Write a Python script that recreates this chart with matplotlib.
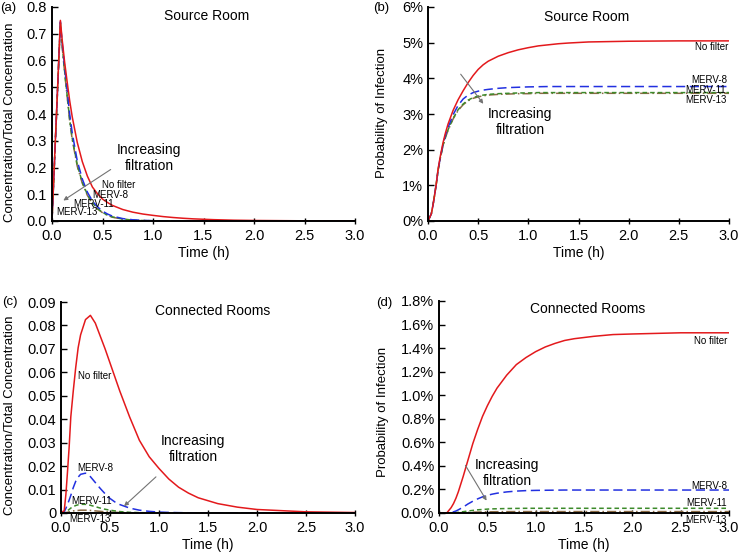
import numpy as np
import matplotlib
matplotlib.use('Agg')
import matplotlib.pyplot as plt
from matplotlib.patches import FancyArrowPatch
from matplotlib.ticker import FuncFormatter

plt.rcParams['font.family'] = ['Liberation Sans', 'DejaVu Sans']

# time (h)
t = [0, 0.033, 0.05, 0.067, 0.083, 0.1, 0.125, 0.15, 0.175, 0.2, 0.25, 0.3, 0.35, 0.4, 0.45, 0.5,
     0.55, 0.6, 0.7, 0.8, 0.9, 1.0, 1.1, 1.2, 1.3, 1.4, 1.6, 1.8, 2.0, 2.5, 3.0]

# (a) source room, concentration / total concentration
a_none = [0, 0.30, 0.45, 0.605, 0.75, 0.68, 0.594, 0.52, 0.45, 0.39, 0.294, 0.222, 0.168, 0.127, 0.102, 0.082,
          0.069, 0.058, 0.043, 0.033, 0.026, 0.021, 0.0165, 0.013, 0.0102, 0.008, 0.005, 0.003, 0.002, 0.0007, 0.0002]
a_m8 = [0, 0.297, 0.447, 0.6, 0.745, 0.67, 0.575, 0.49, 0.40, 0.33, 0.225, 0.157, 0.108, 0.075, 0.053, 0.037,
        0.026, 0.018, 0.009, 0.0045, 0.0023, 0.0012, 0.0006, 0.0003, 0.0002, 0.0001, 0, 0, 0, 0, 0]
a_m11 = [0, 0.295, 0.445, 0.595, 0.74, 0.66, 0.56, 0.47, 0.38, 0.31, 0.21, 0.145, 0.099, 0.068, 0.047, 0.032,
         0.022, 0.015, 0.007, 0.0035, 0.0017, 0.0008, 0.0004, 0.0002, 0.0001, 0.0001, 0, 0, 0, 0, 0]
a_m13 = [0, 0.294, 0.443, 0.594, 0.738, 0.655, 0.555, 0.465, 0.375, 0.305, 0.205, 0.141, 0.096, 0.066, 0.045, 0.031,
         0.021, 0.014, 0.0065, 0.003, 0.0015, 0.0007, 0.0003, 0.0002, 0.0001, 0.0001, 0, 0, 0, 0, 0]

# (b) source room, probability of infection (%)
b_none = [0, 0.2, 0.45, 0.75, 1.05, 1.45, 1.85, 2.2, 2.48, 2.72, 3.1, 3.4, 3.65, 3.88, 4.08, 4.25,
          4.38, 4.48, 4.62, 4.72, 4.8, 4.86, 4.91, 4.94, 4.97, 4.99, 5.02, 5.03, 5.04, 5.05, 5.05]
b_m8 = [0, 0.2, 0.45, 0.75, 1.05, 1.42, 1.82, 2.15, 2.42, 2.62, 2.98, 3.24, 3.42, 3.53, 3.6, 3.64,
        3.67, 3.69, 3.72, 3.74, 3.75, 3.76, 3.765, 3.77, 3.77, 3.77, 3.77, 3.77, 3.77, 3.77, 3.77]
b_m11 = [0, 0.2, 0.45, 0.75, 1.05, 1.41, 1.8, 2.12, 2.37, 2.56, 2.88, 3.12, 3.28, 3.39, 3.46, 3.5,
         3.53, 3.55, 3.57, 3.58, 3.59, 3.59, 3.6, 3.6, 3.6, 3.6, 3.6, 3.6, 3.6, 3.6, 3.6]
b_m13 = [0, 0.2, 0.45, 0.75, 1.05, 1.41, 1.79, 2.11, 2.35, 2.54, 2.86, 3.1, 3.26, 3.37, 3.44, 3.48,
         3.51, 3.53, 3.55, 3.56, 3.57, 3.57, 3.58, 3.58, 3.58, 3.58, 3.58, 3.58, 3.58, 3.58, 3.58]

# (c) connected rooms, concentration / total concentration
c_none = [0, 0.001, 0.008, 0.018, 0.028, 0.041, 0.052, 0.062, 0.0705, 0.076, 0.0825, 0.0843, 0.081, 0.0755, 0.070, 0.064,
          0.058, 0.052, 0.041, 0.031, 0.024, 0.019, 0.0145, 0.011, 0.0085, 0.0065, 0.004, 0.0025, 0.0015, 0.0005, 0.0002]
c_m8 = [0, 0.0005, 0.002, 0.0037, 0.0055, 0.0075, 0.0108, 0.0135, 0.0153, 0.0165, 0.017, 0.0155, 0.013, 0.0105, 0.0082, 0.0062,
        0.0047, 0.0036, 0.0021, 0.0012, 0.0007, 0.0004, 0.00025, 0.00015, 0.0001, 0.00005, 0, 0, 0, 0, 0]
c_m11 = [0, 0.0001, 0.0005, 0.001, 0.0015, 0.0021, 0.0027, 0.0032, 0.0035, 0.0037, 0.0037, 0.0033, 0.0027, 0.0021, 0.0016, 0.0012,
         0.0009, 0.0006, 0.0003, 0.00015, 0.0001, 0.00005, 0, 0, 0, 0, 0, 0, 0, 0, 0]
c_m13 = [0, 0, 0.0002, 0.0003, 0.0005, 0.0007, 0.0009, 0.001, 0.0011, 0.0012, 0.0012, 0.0011, 0.0009, 0.0007, 0.0005, 0.0004,
         0.0003, 0.0002, 0.0001, 0.00005, 0.00003, 0.00002, 0, 0, 0, 0, 0, 0, 0, 0, 0]

# (d) connected rooms, probability of infection (%)
d_none = [0, 0, 0, 0, 0.003, 0.02, 0.045, 0.08, 0.125, 0.18, 0.31, 0.45, 0.59, 0.71, 0.82, 0.91,
          0.99, 1.06, 1.17, 1.26, 1.32, 1.37, 1.41, 1.44, 1.465, 1.48, 1.50, 1.515, 1.52, 1.53, 1.53]
d_m8 = [0, 0, 0, 0, 0, 0.002, 0.005, 0.01, 0.017, 0.027, 0.05, 0.077, 0.1, 0.12, 0.137, 0.15,
        0.16, 0.168, 0.179, 0.186, 0.19, 0.192, 0.193, 0.194, 0.195, 0.195, 0.195, 0.195, 0.195, 0.195, 0.195]
d_m11 = [0, 0, 0, 0, 0, 0, 0.001, 0.002, 0.004, 0.006, 0.011, 0.017, 0.022, 0.027, 0.03, 0.033,
         0.035, 0.036, 0.038, 0.039, 0.04, 0.04, 0.04, 0.04, 0.04, 0.04, 0.04, 0.04, 0.04, 0.04, 0.04]
d_m13 = [0, 0, 0, 0, 0, 0, 0, 0.001, 0.0015, 0.002, 0.003, 0.005, 0.007, 0.008, 0.009, 0.010,
         0.0105, 0.011, 0.0115, 0.012, 0.012, 0.012, 0.012, 0.012, 0.012, 0.012, 0.012, 0.012, 0.012, 0.012, 0.012]

W, H = 740, 557

def fpos(x, y):
    return x / W, 1 - y / H

def rect(l, r, top, bot):
    return [l / W, 1 - bot / H, (r - l) / W, (bot - top) / H]

red, blue, green, brown = '#e3191c', '#2230e0', '#3c8a2a', '#8a6a44'

fig = plt.figure(figsize=(7.4, 5.57), dpi=100)

def panel(r, series, ymax, ystep, fmt, ylabel, lab_xy):
    ax = fig.add_axes(r)
    none, m8, m11, m13 = series
    ax.plot(t, m13, color=brown, lw=1.1, dashes=(6, 2, 1, 2))
    ax.plot(t, m11, color=green, lw=1.1, dashes=(3, 2))
    ax.plot(t, m8, color=blue, lw=1.1, dashes=(6, 3))
    ax.plot(t, none, color=red, lw=1.1)
    ax.set_xlim(0, 3.0)
    ax.set_ylim(0, ymax)
    ax.set_xticks(np.arange(0, 3.01, 0.5))
    ax.set_yticks(np.arange(0, ymax + ystep / 2, ystep))
    ax.xaxis.set_major_formatter(FuncFormatter(lambda v, p: '%.1f' % v))
    ax.yaxis.set_major_formatter(FuncFormatter(fmt))
    for s in ['top', 'right']:
        ax.spines[s].set_visible(False)
    for s in ['left', 'bottom']:
        ax.spines[s].set_linewidth(1.4)
    ax.tick_params(axis='x', direction='inout', length=5, width=1, labelsize=10.5)
    ax.tick_params(axis='y', direction='in', length=4, width=1, labelsize=10.5)
    ax.set_xlabel('Time (h)', fontsize=10, labelpad=2)
    ax.set_ylabel(ylabel, fontsize=9.5)
    ax.yaxis.set_label_coords(*fpos(*lab_xy), transform=fig.transFigure)
    return ax

conc = 'Concentration/Total Concentration'
prob = 'Probability of Infection'

ax1 = panel(rect(52, 355, 7, 221), [a_none, a_m8, a_m11, a_m13], 0.8, 0.1,
            lambda v, p: '%.1f' % v, conc, (16, 122))
ax2 = panel(rect(428, 729, 7, 221), [b_none, b_m8, b_m11, b_m13], 6, 1,
            lambda v, p: '%d%%' % round(v), prob, (388, 113))
ax3 = panel(rect(61, 355, 302, 513), [c_none, c_m8, c_m11, c_m13], 0.09, 0.01,
            lambda v, p: '0' if abs(v) < 1e-9 else '%.2f' % v, conc, (16, 415))
ax4 = panel(rect(439, 729, 301, 513), [d_none, d_m8, d_m11, d_m13], 1.8, 0.2,
            lambda v, p: '%.1f%%' % v, prob, (389, 412))

# panel letters and titles
for txt, x, y in [('(a)', 8, 8), ('(b)', 381, 8), ('(c)', 10, 302), ('(d)', 384, 303)]:
    fig.text(*fpos(x, y), txt, fontsize=9.5, ha='center', va='center')
for txt, x, y in [('Source Room', 207, 16), ('Source Room', 587, 17),
                  ('Connected Rooms', 213, 311), ('Connected Rooms', 588, 309)]:
    fig.text(*fpos(x, y), txt, fontsize=10, ha='center', va='center')

# "Increasing filtration" notes
for x, y, x0, y0, x1, y1 in [(149, 158, 113, 168, 61, 202),
                             (520, 122, 459, 72, 485, 106),
                             (193, 449, 158, 475, 122, 508),
                             (507, 473, 464, 463, 488, 503)]:
    fig.text(*fpos(x, y), 'Increasing\nfiltration', fontsize=10, ha='center',
             va='center', linespacing=1.15)
    fig.add_artist(FancyArrowPatch(fpos(x0, y0), fpos(x1, y1), transform=fig.transFigure,
                                   arrowstyle='-|>', mutation_scale=6, color='0.45', lw=0.8))

# curve labels
labs = [('No filter', 119, 185, 'center'), ('MERV-8', 110, 195, 'center'),
        ('MERV-11', 94, 204, 'center'), ('MERV-13', 77, 212, 'center'),
        ('No filter', 728, 47, 'right'), ('MERV-8', 727, 80, 'right'),
        ('MERV-11', 726, 90, 'right'), ('MERV-13', 727, 100, 'right'),
        ('No filter', 95, 376, 'center'), ('MERV-8', 95, 468, 'center'),
        ('MERV-11', 92, 501, 'center'), ('MERV-13', 90, 519, 'center'),
        ('No filter', 727, 341, 'right'), ('MERV-8', 727, 486, 'right'),
        ('MERV-11', 727, 503, 'right'), ('MERV-13', 727, 520, 'right')]
for txt, x, y, ha in labs:
    fig.text(*fpos(x, y), txt, fontsize=7, ha=ha, va='center')

fig.savefig('out.png', dpi=100)
